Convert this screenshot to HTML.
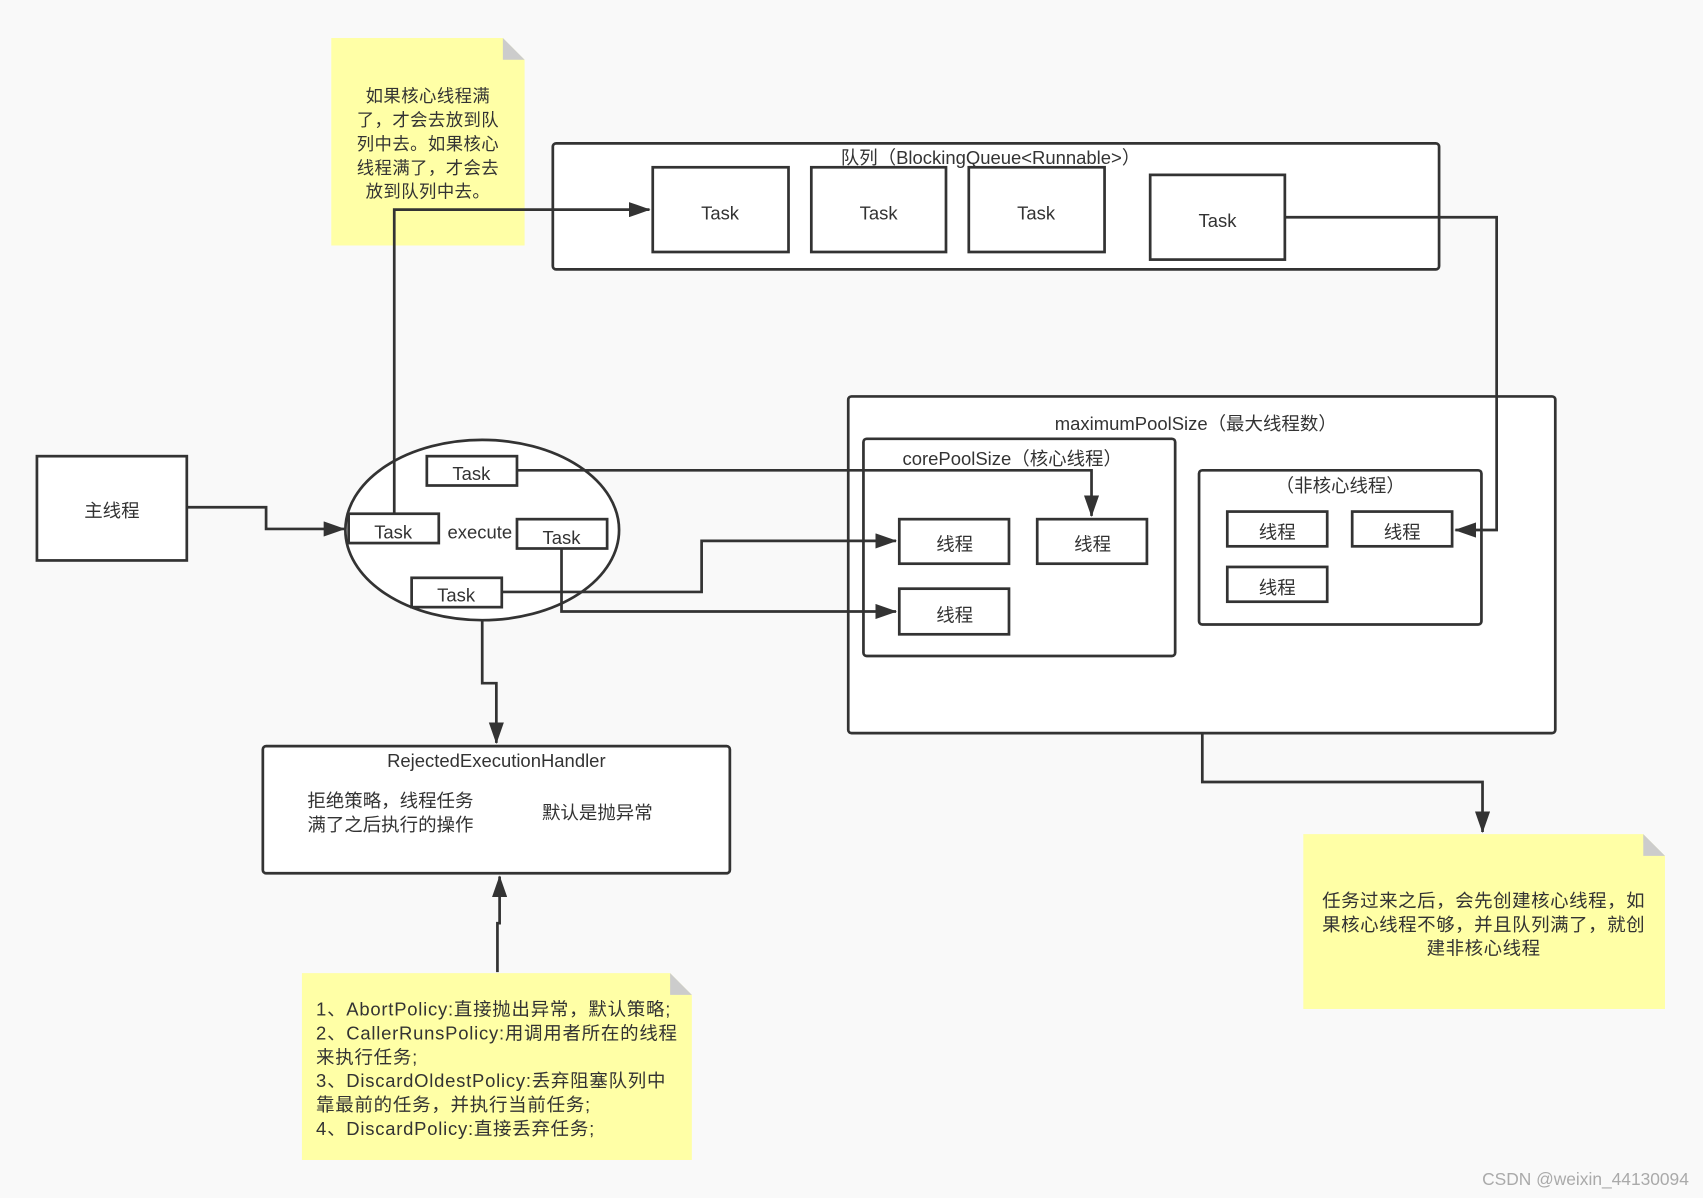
<!DOCTYPE html>
<html><head><meta charset="utf-8"><style>
html,body{margin:0;padding:0;background:#f9f9f9;}
svg{display:block;}
text{font-family:"Liberation Sans","Noto Sans CJK SC",sans-serif;fill:#333;}
</style></head><body>
<svg width="1703" height="1198" viewBox="0 0 1568 1103" xmlns="http://www.w3.org/2000/svg">
<defs>
<marker id="b" markerWidth="20" markerHeight="14" refX="19" refY="7" orient="auto" markerUnits="userSpaceOnUse"><path d="M0,0 L20,7 L0,14 Z" fill="#333"/></marker></defs>
<rect width="1568" height="1103" fill="#f9f9f9"/>
<path d="M305,35 H463 L483,55 V226 H305 Z" fill="#ffffa6"/>
<path d="M463,35 L483,55 H463 Z" fill="#ccc"/>
<g font-size="16" text-anchor="middle" letter-spacing="0.4">
<text x="394" y="94">如果核心线程满</text><text x="394" y="116">了，才会去放到队</text><text x="394" y="138">列中去。如果核心</text><text x="394" y="160">线程满了，才会去</text><text x="394" y="182">放到队列中去。</text></g>
<g fill="none" stroke="#333" stroke-width="2.5">
<rect x="509" y="132" width="816" height="116" rx="3" fill="#fff"/>
<rect x="601" y="154" width="125" height="78" fill="#fff"/>
<rect x="747" y="154" width="124" height="78" fill="#fff"/>
<rect x="892" y="154" width="125" height="78" fill="#fff"/>
<rect x="1059" y="161" width="124" height="78" fill="#fff"/>
<rect x="34" y="420" width="138" height="96" fill="#fff"/>
<rect x="781" y="365" width="651" height="310" rx="3" fill="#fff"/>
<rect x="795" y="404" width="287" height="200" rx="3" fill="#fff"/>
<rect x="1104" y="433" width="260" height="142" rx="3" fill="#fff"/>
<rect x="828" y="478" width="101" height="41" fill="#fff"/>
<rect x="955" y="478" width="101" height="41" fill="#fff"/>
<rect x="828" y="542" width="101" height="42" fill="#fff"/>
<rect x="1130" y="471" width="92" height="32" fill="#fff"/>
<rect x="1245" y="471" width="92" height="32" fill="#fff"/>
<rect x="1130" y="522" width="92" height="32" fill="#fff"/>
<rect x="242" y="687" width="430" height="117" rx="3" fill="#fff"/>
<ellipse cx="444" cy="488" rx="126" ry="83" fill="#fff"/>
<rect x="393" y="420" width="83" height="27" fill="#fff"/>
<rect x="321" y="473" width="83" height="27" fill="#fff"/>
<rect x="476" y="478" width="83" height="27" fill="#fff"/>
<rect x="379" y="532" width="83" height="27" fill="#fff"/>
<path d="M172,467 H245 V487 H317" marker-end="url(#b)"/>
<path d="M363,473 V193 H598" marker-end="url(#b)"/>
<path d="M476,433 H1005 V475" marker-end="url(#b)"/>
<path d="M462,545 H646 V498 H825" marker-end="url(#b)"/>
<path d="M517,505 V563 H825" marker-end="url(#b)"/>
<path d="M444,571 V629 H457 V684" marker-end="url(#b)"/>
<path d="M1183,200 H1378 V488 H1340" marker-end="url(#b)"/>
<path d="M1107,675 V720 H1365 V766" marker-end="url(#b)"/>
<path d="M458,895 V850 H460 V807" marker-end="url(#b)"/>
</g>
<g font-size="17" text-anchor="middle">
<text x="912" y="151">队列（BlockingQueue&lt;Runnable&gt;）</text>
<text x="663" y="202">Task</text><text x="809" y="202">Task</text><text x="954" y="202">Task</text><text x="1121" y="209">Task</text>
<text x="103" y="476">主线程</text>
<text x="434" y="442">Task</text><text x="362" y="496">Task</text><text x="517" y="501">Task</text><text x="420" y="554">Task</text>
<text x="1101" y="396">maximumPoolSize（最大线程数）</text>
<text x="932" y="428">corePoolSize（核心线程）</text>
<text x="1234" y="453">（非核心线程）</text>
<text x="879" y="507">线程</text><text x="1006" y="507">线程</text><text x="879" y="572">线程</text>
<text x="1176" y="496">线程</text><text x="1291" y="496">线程</text><text x="1176" y="547">线程</text>
<text x="457" y="706">RejectedExecutionHandler</text>
</g>
<text x="412" y="496" font-size="17">execute</text>
<g font-size="17"><text x="283" y="743">拒绝策略，线程任务</text><text x="283" y="765">满了之后执行的操作</text><text x="499" y="754">默认是抛异常</text></g>
<path d="M1200,768 H1513 L1533,788 V929 H1200 Z" fill="#ffffa6"/>
<path d="M1513,768 L1533,788 H1513 Z" fill="#ccc"/>
<g font-size="17" text-anchor="middle" letter-spacing="0.5"><text x="1366" y="835">任务过来之后，会先创建核心线程，如</text><text x="1366" y="857">果核心线程不够，并且队列满了，就创</text><text x="1366" y="879">建非核心线程</text></g>
<path d="M278,896 H617 L637,916 V1068 H278 Z" fill="#ffffa6"/>
<path d="M617,896 L637,916 H617 Z" fill="#ccc"/>
<g font-size="17" letter-spacing="0.7"><text x="291" y="935">1、AbortPolicy:直接抛出异常，默认策略;</text><text x="291" y="957">2、CallerRunsPolicy:用调用者所在的线程</text><text x="291" y="979">来执行任务;</text><text x="291" y="1001">3、DiscardOldestPolicy:丢弃阻塞队列中</text><text x="291" y="1023">靠最前的任务，并执行当前任务;</text><text x="291" y="1045">4、DiscardPolicy:直接丢弃任务;</text></g>
<text x="1555" y="1091" font-size="16" text-anchor="end" style="fill:#aaa">CSDN @weixin_44130094</text>
</svg>
</body></html>
